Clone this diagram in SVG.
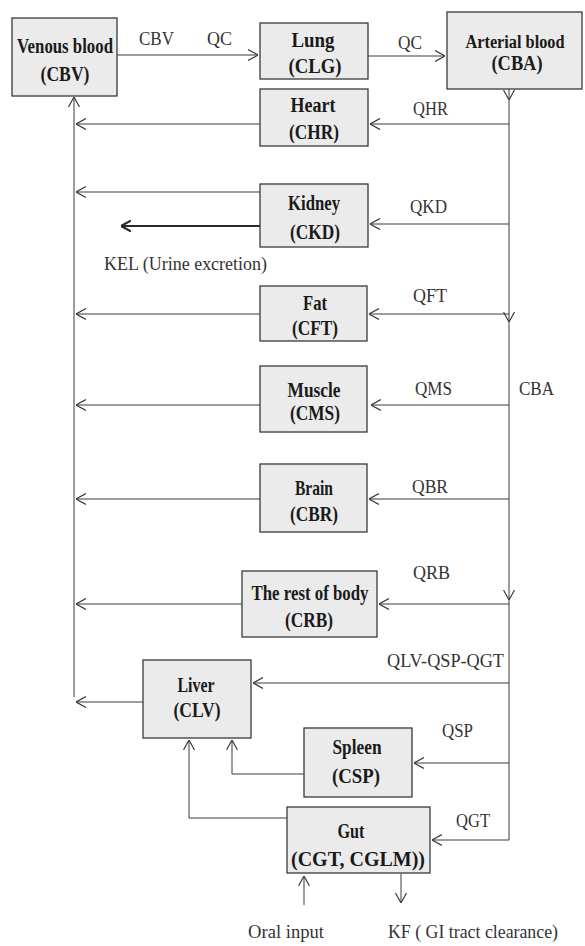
<svg xmlns="http://www.w3.org/2000/svg" width="585" height="946" viewBox="0 0 585 946">
<style>
.box{fill:#ebebeb;stroke:#3a3a3a;stroke-width:1.3}
.nl{font-family:"Liberation Serif","Times New Roman",serif;font-size:20px;font-weight:bold;fill:#1a1a1a;text-anchor:middle}
.lb{font-family:"Liberation Serif","Times New Roman",serif;font-size:19px;fill:#333}
.ln{fill:none;stroke:#3a3a3a;stroke-width:1}
.thick{fill:none;stroke:#2a2a2a;stroke-width:2}
</style>
<defs>
<marker id="ah" viewBox="0 0 10 12" refX="10" refY="6" markerWidth="10" markerHeight="12" markerUnits="userSpaceOnUse" orient="auto">
<path d="M0,0.5 L10,6 L0,11.5" fill="none" stroke="#3a3a3a" stroke-width="1.2"/>
</marker>
<marker id="ahb" viewBox="0 0 10 12" refX="10" refY="6" markerWidth="10" markerHeight="12" markerUnits="userSpaceOnUse" orient="auto">
<path d="M0,0.5 L10,6 L0,11.5" fill="none" stroke="#2a2a2a" stroke-width="2"/>
</marker>
</defs>
<rect width="585" height="946" fill="#fff"/>

<g id="connectors">
<line class="ln" x1="117" y1="55" x2="258" y2="55" marker-end="url(#ah)"/>
<line class="ln" x1="368" y1="56" x2="445" y2="56" marker-end="url(#ah)"/>
<line class="ln" x1="509" y1="89" x2="509" y2="100" marker-end="url(#ah)"/>
<line class="ln" x1="509" y1="100" x2="509" y2="322" marker-end="url(#ah)"/>
<line class="ln" x1="509" y1="322" x2="509" y2="600" marker-end="url(#ah)"/>
<line class="ln" x1="509" y1="600" x2="509" y2="840"/>
<line class="ln" x1="74" y1="697" x2="74" y2="97" marker-end="url(#ah)"/>
<line class="ln" x1="509" y1="124" x2="370" y2="124" marker-end="url(#ah)"/>
<line class="ln" x1="260" y1="124" x2="76" y2="124" marker-end="url(#ah)"/>
<line class="ln" x1="509" y1="224" x2="370" y2="224" marker-end="url(#ah)"/>
<line class="ln" x1="260" y1="192" x2="76" y2="192" marker-end="url(#ah)"/>
<line class="thick" x1="260" y1="226" x2="121" y2="226" marker-end="url(#ahb)"/>
<line class="ln" x1="509" y1="314" x2="369" y2="314" marker-end="url(#ah)"/>
<line class="ln" x1="260" y1="314" x2="76" y2="314" marker-end="url(#ah)"/>
<line class="ln" x1="509" y1="405" x2="371" y2="405" marker-end="url(#ah)"/>
<line class="ln" x1="260" y1="405" x2="76" y2="405" marker-end="url(#ah)"/>
<line class="ln" x1="509" y1="499" x2="369" y2="499" marker-end="url(#ah)"/>
<line class="ln" x1="260" y1="499" x2="76" y2="499" marker-end="url(#ah)"/>
<line class="ln" x1="509" y1="604" x2="379" y2="604" marker-end="url(#ah)"/>
<line class="ln" x1="242" y1="604" x2="76" y2="604" marker-end="url(#ah)"/>
<line class="ln" x1="509" y1="683" x2="253" y2="683" marker-end="url(#ah)"/>
<line class="ln" x1="143" y1="702" x2="76" y2="702" marker-end="url(#ah)"/>
<line class="ln" x1="509" y1="763" x2="414" y2="763" marker-end="url(#ah)"/>
<path class="ln" d="M304,774 H232 V740" marker-end="url(#ah)"/>
<line class="ln" x1="509" y1="840" x2="432" y2="840" marker-end="url(#ah)"/>
<path class="ln" d="M287,818 H189 V740" marker-end="url(#ah)"/>
<line class="ln" x1="304" y1="905" x2="304" y2="876" marker-end="url(#ah)"/>
<line class="ln" x1="401" y1="874" x2="401" y2="903" marker-end="url(#ah)"/>
</g>

<g id="labels">
<text class="lb" x="139" y="45" textLength="35" lengthAdjust="spacingAndGlyphs">CBV</text>
<text class="lb" x="207" y="45" textLength="25" lengthAdjust="spacingAndGlyphs">QC</text>
<text class="lb" x="398" y="49" textLength="24" lengthAdjust="spacingAndGlyphs">QC</text>
<text class="lb" x="413" y="115" textLength="35" lengthAdjust="spacingAndGlyphs">QHR</text>
<text class="lb" x="410" y="213" textLength="37" lengthAdjust="spacingAndGlyphs">QKD</text>
<text class="lb" x="104" y="270" textLength="163" lengthAdjust="spacingAndGlyphs">KEL (Urine excretion)</text>
<text class="lb" x="413" y="302" textLength="34" lengthAdjust="spacingAndGlyphs">QFT</text>
<text class="lb" x="415" y="395" textLength="37" lengthAdjust="spacingAndGlyphs">QMS</text>
<text class="lb" x="519" y="395" textLength="35" lengthAdjust="spacingAndGlyphs">CBA</text>
<text class="lb" x="412" y="493" textLength="36" lengthAdjust="spacingAndGlyphs">QBR</text>
<text class="lb" x="413" y="579" textLength="37" lengthAdjust="spacingAndGlyphs">QRB</text>
<text class="lb" x="387" y="667" textLength="117" lengthAdjust="spacingAndGlyphs">QLV-QSP-QGT</text>
<text class="lb" x="442" y="737" textLength="31" lengthAdjust="spacingAndGlyphs">QSP</text>
<text class="lb" x="456" y="827" textLength="34" lengthAdjust="spacingAndGlyphs">QGT</text>
<text class="lb" x="248" y="938" textLength="76" lengthAdjust="spacingAndGlyphs">Oral input</text>
<text class="lb" x="388" y="938" textLength="170" lengthAdjust="spacingAndGlyphs">KF ( GI tract clearance)</text>
</g>

<g id="venous">
<rect class="box" x="12" y="18" width="105" height="78"/>
<text class="nl" x="65" y="53" textLength="96" lengthAdjust="spacingAndGlyphs">Venous blood</text>
<text class="nl" x="65" y="81" textLength="49" lengthAdjust="spacingAndGlyphs">(CBV)</text>
</g>
<g id="lung">
<rect class="box" x="260" y="23" width="108" height="56"/>
<text class="nl" x="313" y="47" textLength="43" lengthAdjust="spacingAndGlyphs">Lung</text>
<text class="nl" x="315" y="73" textLength="53" lengthAdjust="spacingAndGlyphs">(CLG)</text>
</g>
<g id="arterial">
<rect class="box" x="447" y="12" width="135" height="77"/>
<text class="nl" x="515" y="48" style="font-size:18px" textLength="99" lengthAdjust="spacingAndGlyphs">Arterial blood</text>
<text class="nl" x="517" y="70" textLength="51" lengthAdjust="spacingAndGlyphs">(CBA)</text>
</g>
<g id="heart">
<rect class="box" x="260" y="89" width="108" height="57"/>
<text class="nl" x="313" y="112" textLength="45" lengthAdjust="spacingAndGlyphs">Heart</text>
<text class="nl" x="314" y="139" textLength="50" lengthAdjust="spacingAndGlyphs">(CHR)</text>
</g>
<g id="kidney">
<rect class="box" x="260" y="184" width="108" height="63"/>
<text class="nl" x="314" y="210" textLength="52" lengthAdjust="spacingAndGlyphs">Kidney</text>
<text class="nl" x="315" y="239" textLength="50" lengthAdjust="spacingAndGlyphs">(CKD)</text>
</g>
<g id="fat">
<rect class="box" x="260" y="286" width="107" height="55"/>
<text class="nl" x="315" y="310" textLength="24" lengthAdjust="spacingAndGlyphs">Fat</text>
<text class="nl" x="315" y="335" textLength="46" lengthAdjust="spacingAndGlyphs">(CFT)</text>
</g>
<g id="muscle">
<rect class="box" x="260" y="366" width="107" height="66"/>
<text class="nl" x="314" y="397" textLength="53" lengthAdjust="spacingAndGlyphs">Muscle</text>
<text class="nl" x="315" y="420" textLength="50" lengthAdjust="spacingAndGlyphs">(CMS)</text>
</g>
<g id="brain">
<rect class="box" x="260" y="464" width="107" height="68"/>
<text class="nl" x="314" y="495" textLength="38" lengthAdjust="spacingAndGlyphs">Brain</text>
<text class="nl" x="314" y="521" textLength="48" lengthAdjust="spacingAndGlyphs">(CBR)</text>
</g>
<g id="rest">
<rect class="box" x="242" y="571" width="135" height="66"/>
<text class="nl" x="310" y="600" textLength="117" lengthAdjust="spacingAndGlyphs">The rest of body</text>
<text class="nl" x="309" y="627" textLength="48" lengthAdjust="spacingAndGlyphs">(CRB)</text>
</g>
<g id="liver">
<rect class="box" x="143" y="660" width="108" height="78"/>
<text class="nl" x="196" y="692" textLength="37" lengthAdjust="spacingAndGlyphs">Liver</text>
<text class="nl" x="197" y="717" textLength="47" lengthAdjust="spacingAndGlyphs">(CLV)</text>
</g>
<g id="spleen">
<rect class="box" x="304" y="728" width="108" height="69"/>
<text class="nl" x="357" y="754" textLength="49" lengthAdjust="spacingAndGlyphs">Spleen</text>
<text class="nl" x="356" y="783" textLength="48" lengthAdjust="spacingAndGlyphs">(CSP)</text>
</g>
<g id="gut">
<rect class="box" x="287" y="807" width="143" height="66"/>
<text class="nl" x="351" y="838" textLength="27" lengthAdjust="spacingAndGlyphs">Gut</text>
<text class="nl" x="358" y="866" textLength="134" lengthAdjust="spacingAndGlyphs">(CGT, CGLM))</text>
</g>
</svg>
